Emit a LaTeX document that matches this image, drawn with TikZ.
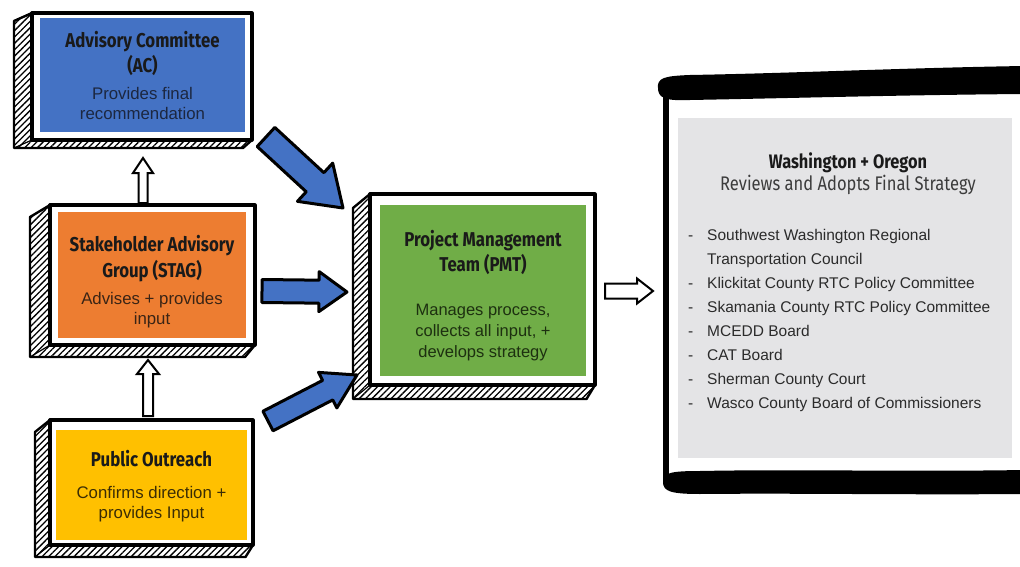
\documentclass[tikz,border=0pt]{standalone}
\usepackage{fontspec}
\setmainfont{Liberation Sans}
\newfontfamily\titlefont[FakeStretch=0.84]{Fira Sans}
\usetikzlibrary{patterns.meta,calc}
\definecolor{acblue}{HTML}{4472C4}
\definecolor{stagorange}{HTML}{ED7D31}
\definecolor{poyellow}{HTML}{FFC000}
\definecolor{pmtgreen}{HTML}{70AD47}
\definecolor{panelgray}{HTML}{E4E4E6}
\definecolor{acbody}{HTML}{1C2740}
\definecolor{stagbody}{HTML}{3A2415}
\definecolor{pobody}{HTML}{3B2D05}
\definecolor{pmtbody}{HTML}{1D3010}
\definecolor{ttlcol}{HTML}{1A1A1A}
\definecolor{listcol}{HTML}{2B2B2B}
\newcommand\ttl{\titlefont\bfseries\fontsize{20}{22}\selectfont\color{ttlcol}}
\tikzset{
  hatchside/.style={pattern={Lines[angle=45,distance=4.5pt,line width=1.3pt]}, pattern color=black},
  sideline/.style={draw=black, line width=2.4pt, line join=round},
  frame/.style={draw=black, fill=white, line width=3.2pt, line join=round},
  boxfill/.style={fill=#1, inner sep=0pt, align=center, font=\fontsize{16.8}{20}\selectfont},
  bluearrow/.style={fill=acblue, draw=black, line width=3pt, line join=round},
  whitearrow/.style={fill=white, draw=black, line width=2pt, line join=miter},
  brush/.style={fill=black, draw=black, line width=4pt, line join=round},
}
% 3D frame: x1 y1 x2 y2 dx dy
\newcommand\tdframe[6]{%
  \filldraw[hatchside, sideline] (#1,#2) -- ({#1+#5},{#2+#6}) -- ({#1+#5},{#4+#6}) -- ({#3+0.5*#5},{#4+#6}) -- (#3,#4) -- (#1,#4) -- cycle;
  \draw[sideline, line width=1.2pt] (#1,#4) -- ({#1+#5},{#4+#6});
  \draw[frame] (#1,#2) rectangle (#3,#4);
}
% block arrow: style, start, end, half shaft, half head, head length
\newcommand\blockarrow[6]{%
  \coordinate (tmpB) at ($(#3)!#6!(#2)$);
  \path[#1] ($(#2)!#4!90:(#3)$) -- ($(tmpB)!#4!90:(#3)$) -- ($(tmpB)!#5!90:(#3)$) -- (#3)
    -- ($(tmpB)!#5!-90:(#3)$) -- ($(tmpB)!#4!-90:(#3)$) -- ($(#2)!#4!-90:(#3)$) -- cycle;
}
\begin{document}
\begin{tikzpicture}[x=1pt,y=-1pt]
\useasboundingbox (0,0) rectangle (1020,567);
\fill[white] (0,0) rectangle (1020,567);

% ---------- Advisory Committee ----------
\tdframe{32}{13}{252}{140}{-18}{8}
\node[boxfill=acblue, minimum width=205, minimum height=114, text=acbody] (ac) at (142.5,75.5)
  {{\ttl Advisory Committee}\\[2pt]{\ttl (AC)}\\[7pt]Provides final\\recommendation};

% ---------- STAG ----------
\tdframe{50}{205}{255}{345}{-20}{12}
\node[boxfill=stagorange, minimum width=188, minimum height=126, text=stagbody] (stag) at (152,275)
  {{\ttl\rule{0pt}{29pt}Stakeholder Advisory}\\[3pt]{\ttl Group (STAG)}\\[7pt]Advises + provides\\input};

% ---------- Public Outreach ----------
\tdframe{50}{420}{253}{545}{-15}{12}
\node[boxfill=poyellow, minimum width=191, minimum height=110, text=pobody] (po) at (151.5,485)
  {{\ttl\rule{0pt}{19pt}Public Outreach}\\[12pt]Confirms direction +\\provides Input};

% ---------- PMT ----------
\tdframe{370}{194}{595}{385}{-17}{14}
\node[boxfill=pmtgreen, minimum width=206, minimum height=171, text=pmtbody,
      font=\fontsize{16.5}{21}\selectfont] (pmt) at (483,290.5)
  {{\ttl\rule{0pt}{27pt}Project Management}\\[2pt]{\ttl Team (PMT)}\\[23pt]Manages process,\\collects all input, +\\develops strategy};

% ---------- Right panel ----------
\path[brush] (660,88) .. controls (659,80) and (664,78) .. (690,77)
  .. controls (800,75) and (900,70) .. (1024,68) -- (1024,92)
  .. controls (900,93) and (800,96) .. (690,98) .. controls (665,99) and (660,96) .. (660,88) -- cycle;
\fill[black] (663,90) rectangle (669,484);
\path[brush] (665,482) .. controls (665,475) and (670,473) .. (700,473)
  .. controls (800,471) and (900,474) .. (1024,472) -- (1024,492)
  .. controls (900,493) and (800,491) .. (700,492) .. controls (670,492) and (665,489) .. (665,482) -- cycle;
\node[fill=panelgray, minimum width=334, minimum height=340, inner sep=0pt] (panel) at (845,288) {};
\node[align=center, inner sep=0pt] (wohead) at (848,174)
  {{\titlefont\bfseries\fontsize{19.5}{25}\selectfont\color{ttlcol} Washington + Oregon}\\[1pt]
   {\titlefont\fontsize{19.7}{25}\selectfont\color{ttlcol!85} Reviews and Adopts Final Strategy}};
\node[anchor=north west, inner sep=0pt, text=listcol, font=\fontsize{15.5}{24}\selectfont] (wolist) at (688,223)
  {\begin{tabular}{@{}p{19pt}@{}l@{}}
   - & Southwest Washington Regional\\
     & Transportation Council\\
   - & Klickitat County RTC Policy Committee\\
   - & Skamania County RTC Policy Committee\\
   - & MCEDD Board\\
   - & CAT Board\\
   - & Sherman County Court\\
   - & Wasco County Board of Commissioners
   \end{tabular}};

% ---------- connectors ----------
\coordinate (acout) at (266,137);
\coordinate (pmtin1) at (343,208);
\coordinate (stagout) at (262,291);
\coordinate (pmtin2) at (347,292);
\coordinate (poout) at (268,421);
\coordinate (pmtin3) at (357,375);
\coordinate (stagup) at (143,203);
\coordinate (acin) at (143,158);
\coordinate (poup) at (148,416);
\coordinate (stagin) at (148,360);
\coordinate (pmtout) at (605,291);
\coordinate (panelin) at (653,291);

\blockarrow{bluearrow}{acout}{pmtin1}{13pt}{26pt}{38pt}
\blockarrow{bluearrow}{stagout}{pmtin2}{11.5pt}{20pt}{28pt}
\blockarrow{bluearrow}{poout}{pmtin3}{11pt}{20pt}{33pt}
\blockarrow{whitearrow}{stagup}{acin}{4.5pt}{10pt}{15pt}
\blockarrow{whitearrow}{poup}{stagin}{5pt}{11pt}{14pt}
\blockarrow{whitearrow}{pmtout}{panelin}{7.5pt}{12.5pt}{16pt}
\end{tikzpicture}
\end{document}
